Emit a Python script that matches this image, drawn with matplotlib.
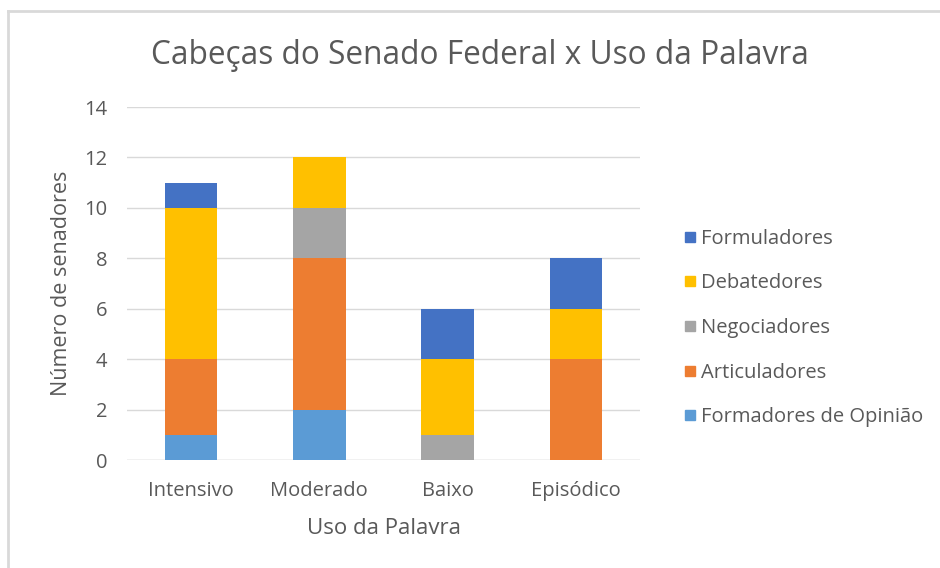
import matplotlib
matplotlib.use("Agg")
import matplotlib.pyplot as plt
import numpy as np
from matplotlib.lines import Line2D

categories = ["Intensivo", "Moderado", "Baixo", "Episódico"]
formadores = [1, 2, 0, 0]
articuladores = [3, 6, 0, 4]
negociadores = [0, 2, 1, 0]
debatedores = [6, 2, 3, 2]
formuladores = [1, 0, 2, 2]

series = [
    ("Formadores de Opinião", formadores, "#5B9BD5"),
    ("Articuladores", articuladores, "#ED7D31"),
    ("Negociadores", negociadores, "#A5A5A5"),
    ("Debatedores", debatedores, "#FFC000"),
    ("Formuladores", formuladores, "#4472C4"),
]

plt.rcParams['font.family'] = ['Open Sans', 'DejaVu Sans']
txt = "#595959"

fig = plt.figure(figsize=(9.4, 5.68), dpi=100)
ax = fig.add_axes([127/940, 1-460/568, 513/940, 353/568])

x = np.arange(len(categories))
bottom = np.zeros(len(categories))
handles = []
for name, vals, col in series:
    v = np.array(vals, dtype=float)
    ax.bar(x, v, bottom=bottom, width=0.41, color=col, zorder=3)
    bottom += v
    handles.append((name, col))

ax.set_xlim(-0.5, len(categories) - 0.5)
ax.set_ylim(0, 14)
ax.set_yticks(range(0, 15, 2))
ax.set_xticks(x)
ax.set_xticklabels(categories)
ax.grid(axis='y', color="#D9D9D9", linewidth=1, zorder=0)
for s in ax.spines.values():
    s.set_visible(False)
ax.axhline(0, color="#D9D9D9", linewidth=1, zorder=2)
ax.tick_params(axis='both', length=0, labelsize=14.5, colors=txt)
ax.tick_params(axis='x', pad=15)
ax.tick_params(axis='y', pad=14)
ax.set_xlabel("Uso da Palavra", fontsize=16, color=txt, labelpad=12)
ax.set_ylabel("Número de senadores", fontsize=15.5, color=txt, labelpad=9)

fig.text(480/940, 1-56/568, "Cabeças do Senado Federal x Uso da Palavra",
         ha='center', va='center', fontsize=22.8, color=txt)

leg_handles = [Line2D([0], [0], marker='s', linestyle='none', markersize=7.5,
                      markerfacecolor=c, markeredgecolor=c) for n, c in reversed(handles)]
leg_labels = [n for n, c in reversed(handles)]
leg = fig.legend(leg_handles, leg_labels, loc='center left',
                 bbox_to_anchor=(682/940, 1-328/568), frameon=False,
                 fontsize=14.5, labelspacing=1.22, handletextpad=0.15,
                 handlelength=0.8, borderaxespad=0, borderpad=0)
for t in leg.get_texts():
    t.set_color(txt)

fig.add_artist(Line2D([8/940, 8/940], [0, 1-11/568], transform=fig.transFigure,
                      color="#D9D9D9", linewidth=2))
fig.add_artist(Line2D([8/940, 1], [1-11/568, 1-11/568], transform=fig.transFigure,
                      color="#D9D9D9", linewidth=2))

fig.savefig("out.png", dpi=100)
